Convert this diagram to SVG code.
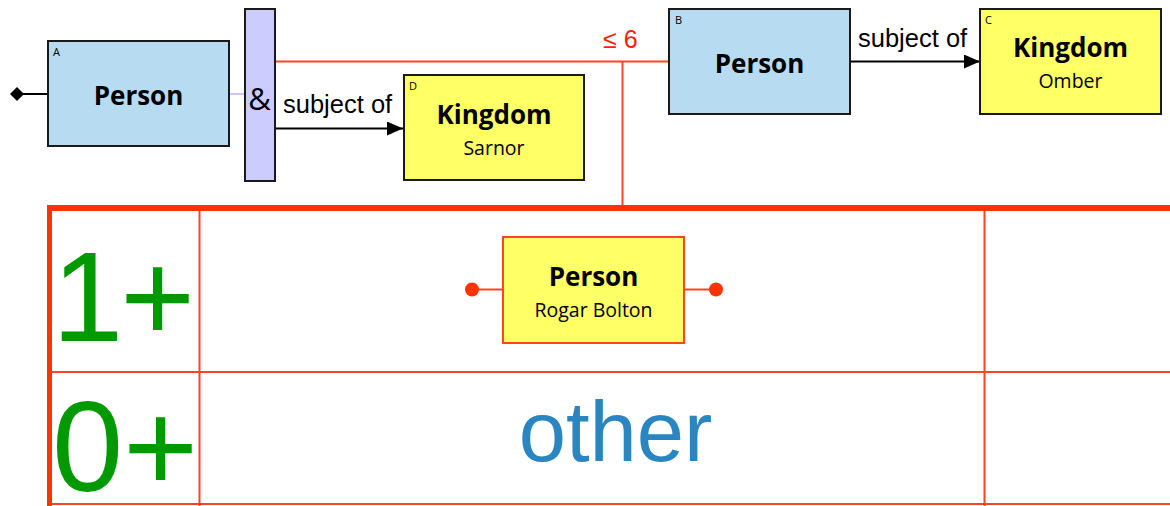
<svg xmlns="http://www.w3.org/2000/svg" width="1170" height="506" viewBox="0 0 1170 506">
<defs>
<style>
.box{stroke:#1a1a1a;stroke-width:2}
.blue{fill:#b7dbf0}
.yel{fill:#ffff66}
.title{font-family:"Open Sans","Noto Sans",sans-serif;font-weight:bold;font-size:26px;text-anchor:middle;fill:#000}
.sub{font-family:"Open Sans","Noto Sans",sans-serif;font-size:19.5px;text-anchor:middle;fill:#000}
.tag{font-family:"Open Sans","Noto Sans",sans-serif;font-size:11px;fill:#000}
.lbl{font-family:"Liberation Sans",Arial,sans-serif;font-size:25.5px;fill:#000}
.red{stroke:#ff4422;stroke-width:2;fill:none}
.thick{stroke:#ff3300;fill:none}
.big{font-family:"Liberation Sans",Arial,sans-serif;font-size:128px;fill:#009900}
</style>
<marker id="arr" viewBox="0 0 16 14" refX="16" refY="7" markerWidth="16" markerHeight="14" markerUnits="userSpaceOnUse" orient="auto">
<path d="M0,0 L16,7 L0,14 Z" fill="#000"/>
</marker>
</defs>
<rect width="1170" height="506" fill="#fff"/>

<g id="table">
<line class="red" x1="199.5" y1="208" x2="199.5" y2="506"/>
<line class="red" x1="984.5" y1="208" x2="984.5" y2="506"/>
<line class="red" x1="49" y1="372" x2="1170" y2="372"/>
<line class="red" x1="49" y1="504" x2="1170" y2="504"/>
<line class="thick" stroke-width="6" x1="47" y1="208" x2="1170" y2="208"/>
<line class="thick" stroke-width="5" x1="49.5" y1="205" x2="49.5" y2="506"/>
<text class="big" x="52" y="341" letter-spacing="-3">1+</text>
<text class="big" x="52" y="491">0+</text>
<text x="615.5" y="461" font-family="'Liberation Sans',Arial,sans-serif" font-size="85" fill="#2a86c1" text-anchor="middle">other</text>
</g>

<g id="connectors">
<line x1="22" y1="94" x2="48" y2="94" stroke="#000" stroke-width="2"/>
<path d="M10,94 L17,87 L24,94 L17,101 Z" fill="#000"/>
<line x1="229" y1="94" x2="245" y2="94" stroke="#c8c8ff" stroke-width="2"/>
<line class="red" x1="275" y1="61.5" x2="669" y2="61.5"/>
<line class="red" x1="622.5" y1="61.5" x2="622.5" y2="205"/>
<text x="603" y="48" font-family="'Liberation Sans',Arial,sans-serif" font-size="25" fill="#ff2200">≤ 6</text>
<line x1="275" y1="128.5" x2="403" y2="128.5" stroke="#000" stroke-width="2" marker-end="url(#arr)"/>
<text class="lbl" x="283" y="113">subject of</text>
<line x1="850" y1="61.5" x2="980" y2="61.5" stroke="#000" stroke-width="2" marker-end="url(#arr)"/>
<text class="lbl" x="858" y="47">subject of</text>
<line class="red" x1="472" y1="289.5" x2="503" y2="289.5"/>
<line class="red" x1="684" y1="289.5" x2="716" y2="289.5"/>
<circle cx="472" cy="289.5" r="7" fill="#ff3300"/>
<circle cx="716" cy="289.5" r="7" fill="#ff3300"/>
</g>

<g id="nodeA">
<rect class="box blue" x="48" y="41" width="181" height="105"/>
<text class="tag" x="53" y="56">A</text>
<text class="title" x="138.5" y="105">Person</text>
</g>

<g id="and">
<rect x="245" y="9" width="30" height="172" fill="#ccccff" stroke="#1a1a1a" stroke-width="2"/>
<text x="259.5" y="110" font-family="'Open Sans','Noto Sans',sans-serif" font-size="31" text-anchor="middle" fill="#000">&amp;</text>
</g>

<g id="nodeD">
<rect class="box yel" x="404" y="75" width="180" height="105"/>
<text class="tag" x="409" y="90">D</text>
<text class="title" x="494" y="124">Kingdom</text>
<text class="sub" x="494" y="155">Sarnor</text>
</g>

<g id="nodeB">
<rect class="box blue" x="669" y="9" width="181" height="105"/>
<text class="tag" x="675" y="24">B</text>
<text class="title" x="759.5" y="73">Person</text>
</g>

<g id="nodeC">
<rect class="box yel" x="980" y="9" width="181" height="105"/>
<text class="tag" x="985" y="24">C</text>
<text class="title" x="1070.5" y="57">Kingdom</text>
<text class="sub" x="1070.5" y="88">Omber</text>
</g>

<g id="nodeR">
<rect x="503" y="237" width="181" height="106" fill="#ffff66" stroke="#ff4422" stroke-width="2"/>
<text class="title" x="593.5" y="286">Person</text>
<text class="sub" x="593.5" y="317">Rogar Bolton</text>
</g>
</svg>
